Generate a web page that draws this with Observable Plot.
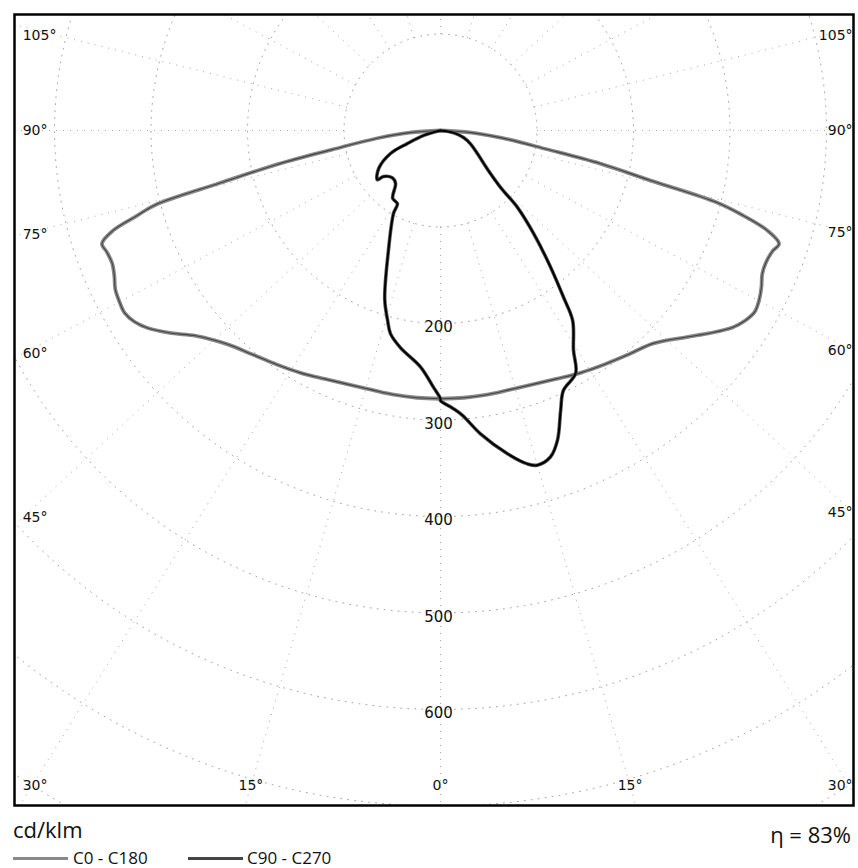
<!DOCTYPE html>
<html><head><meta charset="utf-8">
<script src="https://cdn.jsdelivr.net/npm/d3@7"></script>
<script src="https://cdn.jsdelivr.net/npm/@observablehq/plot@0.6"></script>
<style>
body{margin:0;background:#fff;}
#wrap{position:relative;width:858px;height:868px;font-family:"Open Sans",sans-serif;color:#111;}
#wrap svg{position:absolute;left:0;top:0;}
.t{position:absolute;white-space:nowrap;}
.sw{position:absolute;height:0;}
</style></head><body><div id="wrap"></div>
<script>
// ---- data (gamma angle in degrees from nadir, intensity in cd/klm) ----
const gammaGray = [0,5,10,15,20,25,30,35,40,45,50,53,56,58,60,62,64,66,68,70,71.5,73,74.3,75.4,76.6,78.3,80,83,86,90];
const c0   = [278,278,278,278,280,284,290,296,303,312,333,349,365,372,376,374,370,365,364,366,370,354,326,296,224,169,112,65,32,0];
const c180 = [278,278,278,278,280,284,290,296,303,313,331,349,366,374,378,377,375,370,367,368,370,355,327,305,235,172,114,66,32,0];
const gammaC90 = [0,2.5,4.4,7.5,11.7,14.6,16.1,18.6,20.7,23.2,25.3,29.1,31.2,34.8,36.4,39,42.1,45,46.5,50,58,66,73,80,90];
const c90      = [280,288,296,317,342,357,361,357,343,316,298,288,266,240,215,180,144,113,86,65,45,34,25,14,0];
const gammaC270 = [0,1.6,4.8,10.4,13.8,15.6,18.3,23.4,29.5,30.5,35.2,40.3,45.6,51.1,52.1,58.5,65.3,68.5,73.6,90];
const c270      = [278,266,246,229,217,204,184,136,99,88,86,72,70,76,83,75,57,37,18,0];
const gridRadii = [100,200,300,400,500,600,700,800,900];
const gridAngles = [0,15,30,45,60,75,90,105,120,135,150,165,180,195,210,225,240,255,270,285,300,315,330,345];
const radialLabels = [200,300,400,500,600];
const angleLabels = [0,15,30,45,60,75,90,105];
const seriesNames = ["C0 - C180","C90 - C270"];
const unitText = "cd/klm";
const etaText = "η = 83%";

// ---- geometry helpers ----
const rad = d => d*Math.PI/180;
function half(gs, vs, side){ return gs.map((g,i)=>({x: side*vs[i]*Math.sin(rad(g)), y: vs[i]*Math.cos(rad(g))})); }
const grayPts = [...half(gammaGray,c180,-1).reverse(), ...half(gammaGray,c0,1)];
const darkPts = [...half(gammaC270,c270,-1).reverse(), ...half(gammaC90,c90,1)];

const circles = gridRadii.flatMap(r => d3.range(0,362,2).map(t => ({r, x: r*Math.sin(rad(t)), y: r*Math.cos(rad(t))})));
const warp = 1.08; // angle rays / labels of the original are drawn slightly stretched sideways
const rays = gridAngles.map(a => {
  const dx = warp*Math.sin(rad(a)), dy = Math.cos(rad(a)), n = Math.hypot(dx,dy);
  return {x1: 100*dx/n, y1: 100*dy/n, x2: 1200*dx/n, y2: 1200*dy/n};
});

const XL = 433, XR = 427, YB = 678.8, YT = -98.4;
const labelPts = [];
angleLabels.forEach(a => {
  [-1,1].forEach(s => {
    if (a === 0 && s === 1) return;
    if (a >= 30) {
      const X = s < 0 ? XL : XR;
      let y = X*Math.cos(rad(a))/(warp*Math.sin(rad(a)));
      y = Math.max(YT, Math.min(YB, y));
      labelPts.push({x: s*X, y, t: a + "°", anchor: s < 0 ? "start" : "end"});
    } else {
      labelPts.push({x: s*YB*warp*Math.tan(rad(a)), y: YB, t: a + "°", anchor: "middle"});
    }
  });
});

const chart = Plot.plot({
  width: 858, height: 812,
  marginTop: 14, marginLeft: 14, marginRight: 5, marginBottom: 7,
  x: {domain: [(14-440)/0.965, (853-440)/0.965], range: [14, 853], axis: null},
  y: {domain: [(14-130)/0.965, (805-130)/0.965], range: [14, 805], axis: null},
  style: {fontFamily: "DejaVu Sans", background: "#fff"},
  marks: [
    Plot.line(circles, {x: "x", y: "y", z: "r", stroke: "#a8a8a8", strokeWidth: 1, strokeDasharray: "1,6", clip: true}),
    Plot.link(rays, {x1: "x1", y1: "y1", x2: "x2", y2: "y2", stroke: "#a8a8a8", strokeWidth: 1, strokeDasharray: "1,6", clip: true}),
    Plot.line(grayPts, {x: "x", y: "y", stroke: "#8a8a8a", strokeWidth: 3.8, curve: "catmull-rom"}),
    Plot.line(grayPts, {x: "x", y: "y", stroke: "#444", strokeWidth: 1.1, curve: "catmull-rom"}),
    Plot.line(darkPts, {x: "x", y: "y", stroke: "#5a5a5a", strokeWidth: 3.6, curve: "catmull-rom"}),
    Plot.line(darkPts, {x: "x", y: "y", stroke: "#000", strokeWidth: 2, curve: "catmull-rom"}),
    Plot.text(radialLabels, {x: () => 0, y: d => d, text: d => String(d), fontSize: 15, dy: 4, dx: -2, fill: "#111"}),
    Plot.text(labelPts.filter(d => d.anchor === "start"), {x: "x", y: "y", text: "t", textAnchor: "start", fontSize: 14, fill: "#111"}),
    Plot.text(labelPts.filter(d => d.anchor === "end"), {x: "x", y: "y", text: "t", textAnchor: "end", fontSize: 14, fill: "#111"}),
    Plot.text(labelPts.filter(d => d.anchor === "middle"), {x: "x", y: "y", text: "t", textAnchor: "middle", fontSize: 14, fill: "#111"}),
    Plot.frame({stroke: "#000", strokeWidth: 2.5})
  ]
});
const wrap = document.getElementById("wrap");
wrap.appendChild(chart);

function addText(txt, css){ const d = document.createElement("div"); d.className = "t"; d.textContent = txt; Object.assign(d.style, css); wrap.appendChild(d); }
function addSwatch(left, color){ const d = document.createElement("div"); d.className = "sw"; Object.assign(d.style, {left: left+"px", top: "857px", width: "55px", borderTop: "3px solid " + color}); wrap.appendChild(d); }
addText(unitText, {left: "13px", top: "815px", fontSize: "22px", lineHeight: "28px"});
addText(etaText, {right: "7px", top: "820px", fontSize: "22px", lineHeight: "28px"});
addSwatch(13, "#8a8a8a");
addText(seriesNames[0], {left: "73px", top: "848px", fontSize: "17px", lineHeight: "20px"});
addSwatch(188, "#444");
addText(seriesNames[1], {left: "247px", top: "848px", fontSize: "17px", lineHeight: "20px"});
</script></body></html>
